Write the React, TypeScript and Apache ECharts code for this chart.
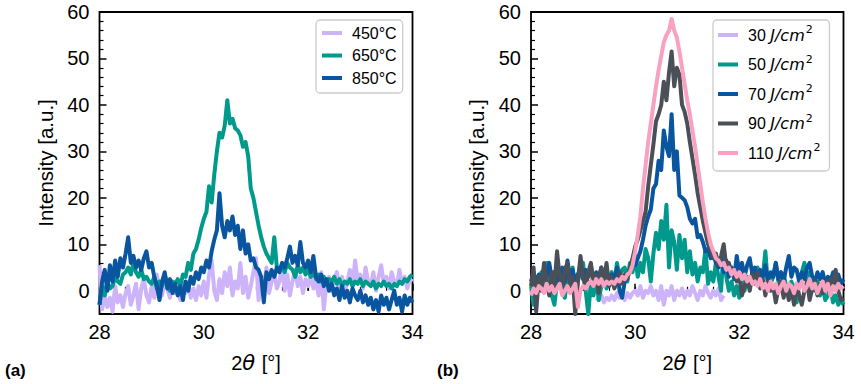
import React, { useEffect, useRef } from 'react';
import * as echarts from 'echarts';

// ---- sampling grid (2θ) ----
const THETA_START = 28;
const THETA_STEP = 0.05;
const LAV_B_START = 29.25; // 30 J/cm² trace only visible over this span

// ---- tick values ----
const X_MAJOR_INTERVAL = 2;
const X_MINOR_INTERVAL = 0.5;
const Y_MAJOR_TICKS = [0, 10, 20, 30, 40, 50, 60];
const Y_MINOR_TICKS = [-4, -2, 2, 4, 6, 8, 12, 14, 16, 18, 22, 24, 26, 28, 32, 34, 36, 38, 42, 44, 46, 48, 52, 54, 56, 58];

// ---- panel (a): annealing temperature ----
const A_NAMES = ['450°C', '650°C', '850°C'];
const A450 = [
  5.5, -4, -1, -3.5, -1.5, -4.5, 1, -2.5, -1, -3.5,
  -0.5, 1, -3, -1, 1.5, -4, 0.5, 2.5, -1, -2.5,
  1, -1.5, 3.5, 0, -1, 2.5, 0.5, -1.5, 1.5, -0.5,
  0, -2, 1.5, -0.5, 2, -1.5, 0.5, -2, 1, -1,
  2, -1.5, 3.5, 6.5, 0, -2, 2.5, -0.5, 4, 1,
  5, -1, 2, 0.5, 6, -0.5, 3, -1.5, 1, 4,
  7, -2, 3, 1, 5, -0.5, 2, 4, 0.5, 2,
  5, 0, 3.5, -1, 2, 4.5, 1, 3, -0.5, 2.5,
  1, 3.5, 0.5, 2, -1, 4, -4, 1.5, 3, 0,
  2.5, 4, 0.5, 3, -0.5, 2, 4.5, 1, 6.5, 2,
  3.5, 0.5, 5, 2, 1, 4, 0, 3, 5.5, 1.5,
  3, 0.5, 4, 2, 1, 4.5, 1.5, 3, 0.5, 2.5,
  2,
];
const A650 = [
  -3, 1, -1, 2, 0.5, 1, 3, 2, 1.5, 3.5,
  4, 5, 3.5, 6, 4, 3, 4.5, 2.5, 3, 2,
  1.5, 3, 0.5, 2, 1, 3.5, 1, 0, 2, 1.5,
  2.5, 1, 3.5, 3, 6, 4.5, 8, 9, 11, 13.5,
  15.5, 17, 22.5, 19, 25, 30, 34, 33, 35.5, 41,
  36, 37, 35, 34.5, 33.5, 31, 32, 29, 22, 20,
  17, 14, 11.5, 9.5, 8, 7, 6, 11.5, 5, 4.5,
  5.5, 4, 6, 5, 4.5, 3, 5.5, 4, 5, 3.5,
  4.5, 3, 4, 2.5, 3.5, 2, 3, 1.5, 2.5, 2,
  3, 1.5, 2.5, 1, 2, 1.5, 2.5, 1, 2, 1.5,
  2.5, 1, 2, 1.5, 1, 2, 0.5, 1.5, 1, 2,
  1, 1.5, 0.5, 1.5, 1, 2, 1.5, 2.5, 2, 3,
  3.5,
];
const A850 = [
  -3, 2, 4.5, 0, 5.5, 2, 6.5, 3, 7, 5,
  8, 11.5, 6, 7.5, 5, 6.5, 4.5, 7, 8.5, 5,
  6, 3, 1, -2, 2, 4, 0.5, 2.5, -0.5, 1.5,
  -1, 1, -2, 2, 0, 3, 1.5, 4, 2.5, 5,
  4, 6.5, 5, 8.5, 11, 13, 21, 14, 11.5, 15,
  13, 16, 12, 14, 9, 13, 8, 10, 6.5, 7,
  5, 4.5, 3, -2.5, 4, 2.5, 4.5, 3, 5, 4,
  6, 5, 7, 9.5, 6, 7.5, 5.5, 10.5, 6, 5,
  6.5, 4, 7.5, 3, 2, 3.5, 1, 2.5, 0, 1.5,
  -1, 0.5, -2, 1, -1.5, 0, -2.5, 0.5, -1, -2,
  0, -2.5, -1, -3, -1.5, -4, -2, -4.5, -1, -3,
  -1.5, -4, -2, 0, -3, -1.5, -4.5, -1, -3, -1.5,
  -2.5,
];

// ---- panel (b): laser fluence ----
const B_NAMES = ['30 J/cm²', '50 J/cm²', '70 J/cm²', '90 J/cm²', '110 J/cm²'];
const B30 = [
  -1.5, -2, -1, -2.5, -1.5,
  -2, -1, -2, -0.5, -1.5, -1, -2, -0.5, -1.5, -0.5,
  0, -1, 1, -1.5, 0, -0.5, 1, -1, 0, -2,
  1, -3, 0, -1, 1, -2, 0, -1, 0.5, -1.5,
  0, -1, 1, -0.5, -2, 0, -1, 1, -0.5, -1.5,
  0, -1, 0.5, -2, -1,
];
const B50 = [
  1, -3, 2.5, 0.5, 4, 1, 6, 2, -1, -3,
  2, 4.5, 0, -1.5, 3, 1, 5, -2, 2, 4.5,
  6, 0, -5, 2, -1, 3, -2, 1, 3.5, 0.5,
  2.5, 4, 1, 6, 3, 4.5, 5, 2, 6, 4,
  7.5, 3, 6, 4, 9, 7, 2, 8, 12.5, 9,
  15, 11, 18.5, 5, 13, 10.5, 4.5, 12, 7, 11,
  4, 8.5, 3.5, 6, 2, 5, 4, 9, 1.5, 4,
  2, 6, 3, 0, 9.5, 3, 0, 2, -1, 1,
  -1.5, 2.5, 0, 3, 1.5, 4, 2, 5, 1, 3,
  8.5, 1, 1.5, 3, 6, 2, 0, 3.5, 1, -1,
  2, 0, -2.5, 2, 4, 6, 2, 4, 3, 0,
  2, -1, 1, -2, -1, 0.5, -2.5, -1, -3, -2,
  -3,
];
const B70 = [
  2, 4, 1.5, 3.5, 2, 5, 3, 6, 2.5, 4,
  1.5, 3.5, 5, 2, 6.5, 3, 4.5, 2, 3.5, 5,
  2.5, 4.5, 3, 5.5, 2, 4, 3, 5, 2.5, 4.5,
  1.5, 3.5, 2, 5, 0, -1.5, 2, 3, 4.5, 6,
  5.5, 7, 8.5, 11, 14, 16, 17.5, 22, 23, 28,
  26, 34.5, 31, 29, 38, 26, 30, 20.5, 20, 19.5,
  18, 15.5, 14.5, 15.5, 11.5, 12, 10.5, 8.5, 9, 7,
  8, 6, 5, 7, 4, 6.5, 3, 5, 2.5, 7.5,
  4, 6, 3, 5.5, 7, 3.5, 5, 2, 4.5, 3,
  5.5, 2, 4, 3, 6, 2.5, 4, 2, 5, 7.5,
  3, 5, 4.5, 2, 4, 2.5, 5, 6, 3, 2,
  4, 2.5, 4, 1.5, 3, 2, 4, 2.5, 3.5, 1.5,
  2.5,
];
const B90 = [
  1, 5, -4.5, 3, 0, 6, 2, -1, 4, 1,
  8.5, 3, 0, 4.5, 6, 1, 3, -5, 2, 7.5,
  3, 0.5, 4, 6, 1, 3.5, -0.5, 5, 2, 6,
  1, 3, 0.5, 2, 4, 1.5, 3.5, 2.5, 5, 7,
  9.5, 11, 13, 15, 17, 22.5, 27, 31.5, 36.5, 38,
  40, 45, 41, 47, 51.5, 44, 48, 46.5, 40, 38.5,
  36, 32, 28.5, 25, 21, 18, 15, 12.5, 10, 8.5,
  7, 8, 5.5, 7.5, 10, 5, 6, 3.5, 4.5, 2,
  3, -1, 1, 2.5, 0, 3.5, 1.5, 4, 0.5, 2.5,
  -1, 2, 0, 1, -2.5, 0.5, 2, -1.5, 1, -2,
  0.5, -3, 1.5, -1, -3, 0, 2, -2, 0.5, 2,
  -1, 1.5, -0.5, 2, 0, 2.5, 1, 4.5, 0, -2,
  -1.5,
];
const B110 = [
  -1, 0.5, -0.5, 1, 0.5, -0.5, 1.5, 0, 1, -0.5,
  0.5, 1.5, -1, 0, 1, -0.5, 0.5, 1.5, -3.5, 0,
  1, 0.5, 1.5, 2, 1, 2.5, 1.5, 2.5, 1, 2,
  1.5, 2, 1.5, 2.5, 2, 3, 2.5, 3.5, 4, 5.5,
  8.5, 12, 16, 22, 27, 32, 36, 40, 44, 47.5,
  50.5, 53.5, 55, 56, 58.5, 56, 54.5, 51.5, 48, 44.5,
  41, 38, 34.5, 31, 27, 23, 19, 15.5, 12.5, 10,
  8.5, 7, 6.5, 5.5, 6, 4.5, 5, 3.5, 4.5, 3,
  4, 2.5, 3.5, 2, 3, 1.5, 2, 1, 2.5, 0.5,
  1.5, 0, 2, 0.5, 1.5, -0.5, 1, 2, 0, 1.5,
  1, -0.5, 1.5, 0.5, 2, 0, 1, 2.5, 0.5, 1.5,
  -0.5, 1, 2, 0, 1.5, -1, 1, 0, 1.5, 0.5,
  1,
];

const COLORS = {
  lavender: '#cdb4fa',
  teal: '#009a8c',
  blue: '#0a55a0',
  gray: '#4b5058',
  pink: '#f8a1c0',
};

const FONT = '"Liberation Sans", Arial, sans-serif';
const MATH_FONT = '"DejaVu Sans", sans-serif';

const toPairs = (ys: number[], start: number) =>
  ys.map((y, i) => [+(start + i * THETA_STEP).toFixed(2), y]);

const GRIDS = [
  { left: 99.5, top: 12, width: 313, height: 302 },
  { left: 531, top: 12, width: 312.5, height: 302 },
];

function buildOption() {
  const xAxis: any[] = [];
  const yAxis: any[] = [];
  GRIDS.forEach((_, g) => {
    xAxis.push({
      gridIndex: g,
      type: 'value',
      position: 'bottom',
      min: 28,
      max: 34,
      interval: X_MAJOR_INTERVAL,
      axisLine: { show: false },
      splitLine: { show: false },
      axisTick: { show: true, inside: true, length: 7, lineStyle: { color: '#000', width: 1.5 } },
      axisLabel: { show: true, fontSize: 20, color: '#000', fontFamily: FONT, margin: 8 },
      name: '2{i|θ} [°]',
      nameLocation: 'middle',
      nameGap: 38,
      nameMoveOverlap: false,
      nameTextStyle: {
        fontSize: 20,
        color: '#000',
        fontFamily: FONT,
        rich: { i: { fontStyle: 'italic', fontFamily: MATH_FONT, fontSize: 21, color: '#000', padding: [0, 1, 0, 0] } },
      },
    });
    xAxis.push({
      gridIndex: g,
      type: 'value',
      position: 'bottom',
      min: 28,
      max: 34,
      interval: X_MINOR_INTERVAL,
      axisLine: { show: false },
      splitLine: { show: false },
      axisTick: { show: true, inside: true, length: 4, lineStyle: { color: '#000', width: 1.2 } },
      axisLabel: { show: false },
    });
    yAxis.push({
      gridIndex: g,
      type: 'value',
      position: 'left',
      min: -5,
      max: 60,
      axisLine: { show: false },
      splitLine: { show: false },
      axisTick: {
        show: true,
        inside: true,
        length: 7,
        customValues: Y_MAJOR_TICKS,
        lineStyle: { color: '#000', width: 1.5 },
      },
      axisLabel: {
        show: true,
        customValues: Y_MAJOR_TICKS,
        fontSize: 20,
        color: '#000',
        fontFamily: FONT,
        margin: 10,
      },
      name: 'Intensity [a.u.]',
      nameLocation: 'middle',
      nameGap: 44,
      nameMoveOverlap: false,
      nameTextStyle: { fontSize: 20.5, color: '#000', fontFamily: FONT },
    });
    yAxis.push({
      gridIndex: g,
      type: 'value',
      position: 'left',
      min: -5,
      max: 60,
      axisLine: { show: false },
      splitLine: { show: false },
      axisTick: {
        show: true,
        inside: true,
        length: 4,
        customValues: Y_MINOR_TICKS,
        lineStyle: { color: '#000', width: 1.2 },
      },
      axisLabel: { show: false },
    });
  });

  const line = (name: string, color: string, data: any[], g: number) => ({
    name,
    type: 'line',
    xAxisIndex: g * 2,
    yAxisIndex: g * 2,
    data,
    color,
    symbol: 'none',
    showSymbol: false,
    clip: true,
    lineStyle: { width: 4, color, join: 'round' },
    emphasis: { disabled: true },
  });

  const series = [
    line(A_NAMES[0], COLORS.lavender, toPairs(A450, THETA_START), 0),
    line(A_NAMES[1], COLORS.teal, toPairs(A650, THETA_START), 0),
    line(A_NAMES[2], COLORS.blue, toPairs(A850, THETA_START), 0),
    line(B_NAMES[0], COLORS.lavender, toPairs(B30, LAV_B_START), 1),
    line(B_NAMES[1], COLORS.teal, toPairs(B50, THETA_START), 1),
    line(B_NAMES[2], COLORS.blue, toPairs(B70, THETA_START), 1),
    line(B_NAMES[3], COLORS.gray, toPairs(B90, THETA_START), 1),
    line(B_NAMES[4], COLORS.pink, toPairs(B110, THETA_START), 1),
  ];

  const legendCommon = {
    orient: 'vertical',
    icon: 'rect',
    itemWidth: 20,
    itemHeight: 4,
    selectedMode: false,
    backgroundColor: 'rgba(255,255,255,0.85)',
    borderColor: '#cccccc',
    borderWidth: 1.3,
    borderRadius: 4,
  };

  return {
    animation: false,
    backgroundColor: '#ffffff',
    textStyle: { fontFamily: FONT },
    grid: GRIDS.map((gr) => ({
      ...gr,
      show: true,
      borderColor: '#000',
      borderWidth: 1.8,
      backgroundColor: 'transparent',
      containLabel: false,
      outerBoundsMode: 'none',
    })),
    xAxis,
    yAxis,
    legend: [
      {
        ...legendCommon,
        data: A_NAMES,
        left: 316,
        top: 20,
        itemGap: 4.5,
        padding: [4, 6, 6, 6],
        textStyle: { fontSize: 16, lineHeight: 18, color: '#000', fontFamily: FONT, padding: [0, 0, 0, 5] },
      },
      {
        ...legendCommon,
        data: B_NAMES,
        left: 713,
        top: 20,
        itemGap: 7.5,
        padding: [4, 9, 7, 5],
        formatter: (name: string) => `${name.split(' ')[0]} {i|J/cm}{s|2}`,
        textStyle: {
          fontSize: 16,
          lineHeight: 22,
          color: '#000',
          fontFamily: FONT,
          padding: [0, 0, 0, 5],
          rich: {
            i: { fontStyle: 'italic', fontFamily: MATH_FONT, fontSize: 16, lineHeight: 22, color: '#000' },
            s: { fontFamily: MATH_FONT, fontSize: 11, lineHeight: 22, verticalAlign: 'top', color: '#000', padding: [0, 0, 0, 1] },
          },
        },
      },
    ],
    graphic: [
      {
        type: 'text',
        left: 5,
        top: 362,
        style: { text: '(a)', font: `bold 17px ${FONT}`, fill: '#000' },
      },
      {
        type: 'text',
        left: 437,
        top: 362,
        style: { text: '(b)', font: `bold 17px ${FONT}`, fill: '#000' },
      },
    ],
    series,
  };
}

export default function App() {
  const ref = useRef<HTMLDivElement>(null);
  useEffect(() => {
    if (!ref.current) return;
    const chart = echarts.init(ref.current, undefined, { renderer: 'svg' });
    chart.setOption(buildOption() as any);
    return () => chart.dispose();
  }, []);
  return (
    <div
      ref={ref}
      style={{ position: 'absolute', left: 0, top: 0, width: 861, height: 384, background: '#fff' }}
    />
  );
}
